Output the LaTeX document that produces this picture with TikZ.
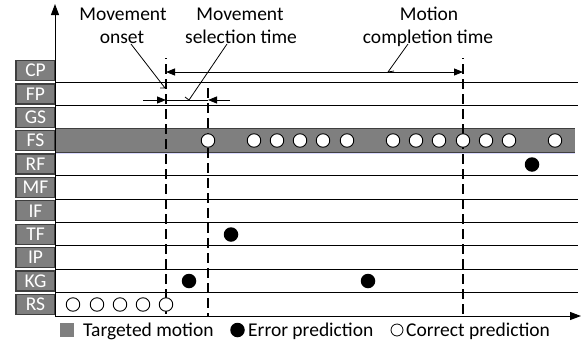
\documentclass[tikz,border=0pt]{standalone}
\usepackage{fontspec}
\setmainfont{Carlito}
\usetikzlibrary{arrows.meta}
\definecolor{boxgray}{HTML}{7F7F7F}
\definecolor{boxbord}{HTML}{3F3F3F}
\begin{document}
\begin{tikzpicture}[x=1pt,y=-1pt,
  rowlbl/.style={draw=boxbord, line width=1.3pt, fill=boxgray, text=white,
    minimum width=39pt, minimum height=20pt, inner sep=0pt,
    font=\fontsize{19.5}{20}\selectfont},
  txt/.style={font=\fontsize{19.5}{21}\selectfont, inner sep=0pt, anchor=base},
  wc/.style={circle, draw=black, fill=white, minimum size=13.5pt, inner sep=0pt, line width=0.9pt},
  bd/.style={circle, fill=black, minimum size=14.5pt, inner sep=0pt},
  gridline/.style={line width=1.1pt},
  vdash/.style={line width=1.2pt, dash pattern=on 10pt off 5pt},
  dimline/.style={line width=0.9pt},
  lead/.style={line width=0.8pt},
  tip/.style={-{Triangle[length=9pt,width=7pt]}}
]
\useasboundingbox (0,0) rectangle (586,343);

% targeted motion band (FS row)
\fill[boxgray] (55,128.8) rectangle (575,152.2);
\draw[line width=1.3pt, boxbord] (55,128.8) -- (575,128.8);
\draw[line width=1.3pt, boxbord] (55,152.2) -- (575,152.2);
\draw[line width=0.6pt, blue!15] (55,153.6) -- (575,153.6);

% horizontal grid lines
\foreach \k in {1,2,5,6,7,8,9,10} {
  \draw[gridline] (55,{58.8+23.38*\k}) -- (578,{58.8+23.38*\k});
}

% row labels
\foreach \t [count=\i from 0] in {CP,FP,GS,FS,RF,MF,IF,TF,IP,KG,RS} {
  \node[rowlbl] (l\t) at (35.5,{70.5+23.38*\i}) {\t};
}

% axes
\coordinate (origin) at (55,316);
\coordinate (ytop) at (55,4);
\coordinate (xend) at (581,316);
\draw[line width=1pt, -{Triangle[length=11pt,width=8pt]}] (origin) -- (ytop);
\draw[line width=1pt, -{Triangle[length=11pt,width=8pt]}] (origin) -- (xend);

% dashed time markers
\coordinate (d1t) at (166,58); \coordinate (d1b) at (166,316);
\coordinate (d2t) at (208,88); \coordinate (d2b) at (208,316);
\coordinate (d3t) at (463,58); \coordinate (d3b) at (463,316);
\draw[vdash, dash phase=9pt] (d1t) -- (d1b);
\draw[vdash] (d2t) -- (d2b);
\draw[vdash, dash phase=9pt] (d3t) -- (d3b);

% dimension arrows
\coordinate (a1) at (166,72); \coordinate (a2) at (463,72);
\draw[dimline, {Triangle[length=9pt,width=7pt]}-{Triangle[length=9pt,width=7pt]}] (a1) -- (a2);
\coordinate (b0) at (143,100); \coordinate (b1) at (166,100);
\coordinate (b2) at (208,100); \coordinate (b3) at (230,100);
\draw[dimline] (b1) -- (b2);
\draw[dimline, tip] (b0) -- (b1);
\draw[dimline, tip] (b3) -- (b2);

% annotation texts
\node[txt] (t1) at (123,20) {Movement};
\node[txt] (t2) at (122,43) {onset};
\node[txt] (t3) at (240,20) {Movement};
\node[txt] (t4) at (241,43) {selection time};
\node[txt] (t5) at (429,20) {Motion};
\node[txt] (t6) at (428,43) {completion time};

% leaders
\coordinate (e1) at (165,88);
\coordinate (e2) at (189,100);
\coordinate (e3) at (388,72);
\draw[lead] (131,44) -- (e1) -- ++(-5,0);
\draw[lead] (227,44) -- (e2) -- ++(-4,-3);
\draw[lead] (408,44) -- (e3) -- ++(6,-1);

% FS correct predictions
\foreach \x [count=\n] in {208,254,277,300,323,347,393,416,439,463,486,509,555} {
  \node[wc] (fs\n) at (\x,140.5) {};
}
% RS correct predictions
\foreach \x [count=\n] in {73,97,120,143,166} {
  \node[wc] (rs\n) at (\x,304.5) {};
}
% error predictions
\node[bd] (rf1) at (532,164.5) {};
\node[bd] (tf1) at (231,234.5) {};
\node[bd] (kg1) at (189,281) {};
\node[bd] (kg2) at (368,281) {};

% legend
\node[fill=boxgray, minimum size=14pt, inner sep=0pt] (lg1) at (67,330) {};
\node[txt, anchor=base west] (lt1) at (83,336.5) {Targeted motion};
\node[bd] (lg2) at (237.5,330) {};
\node[txt, anchor=base west] (lt2) at (248,336.5) {Error prediction};
\node[wc, minimum size=12pt, line width=0.8pt] (lg3) at (397,330) {};
\node[txt, anchor=base west] (lt3) at (406,336.5) {Correct prediction};
\end{tikzpicture}
\end{document}
